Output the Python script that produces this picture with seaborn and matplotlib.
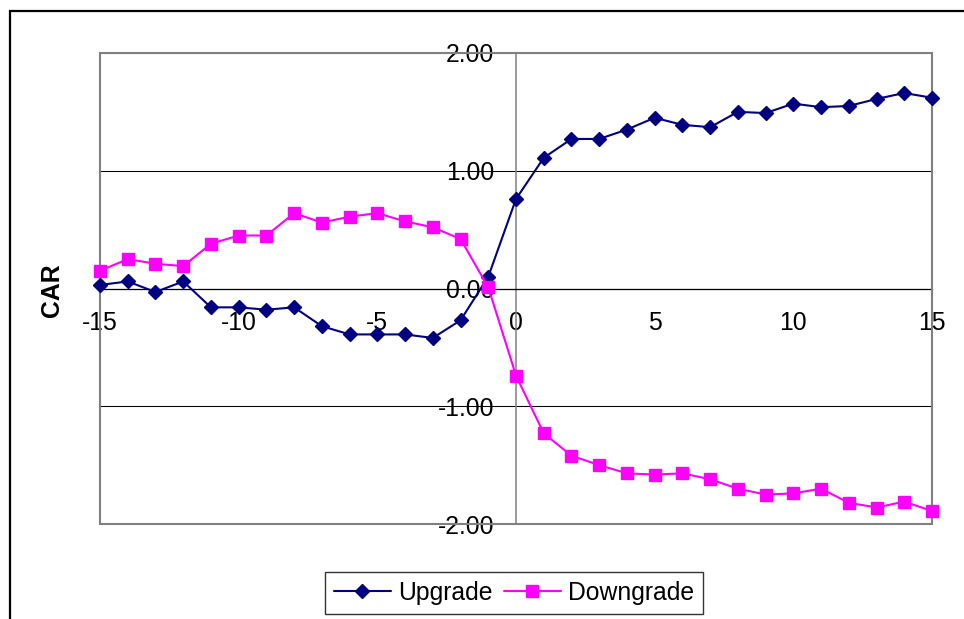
import matplotlib
matplotlib.use("Agg")
import matplotlib.pyplot as plt
from matplotlib.patches import Rectangle
import seaborn as sns

# -------------------------
# data
# -------------------------
days = [-15, -14, -13, -12, -11, -10, -9, -8, -7, -6, -5, -4, -3, -2, -1,
        0, 1, 2, 3, 4, 5, 6, 7, 8, 9, 10, 11, 12, 13, 14, 15]
upgrade = [0.03, 0.06, -0.03, 0.06, -0.16, -0.16, -0.18, -0.16, -0.32, -0.39,
           -0.39, -0.39, -0.42, -0.27, 0.10,
           0.76, 1.11, 1.27, 1.27, 1.35, 1.45, 1.39, 1.37, 1.50, 1.49,
           1.57, 1.54, 1.55, 1.61, 1.66, 1.62]
downgrade = [0.15, 0.25, 0.21, 0.19, 0.38, 0.45, 0.45, 0.64, 0.56, 0.61,
             0.64, 0.57, 0.52, 0.42, 0.01,
             -0.74, -1.23, -1.42, -1.50, -1.57, -1.58, -1.57, -1.62, -1.70, -1.75,
             -1.74, -1.70, -1.82, -1.86, -1.81, -1.89]
x_ticks = [-15, -10, -5, 0, 5, 10, 15]
y_ticks = [-2, -1, 0, 1, 2]

NAVY = "#000080"
MAGENTA = "#FF00FF"
FS = 17.8

# -------------------------
# style
# -------------------------
sns.set_style("white")
plt.rcParams["font.family"] = ["Liberation Sans", "DejaVu Sans"]
plt.rcParams["text.color"] = "black"
plt.rcParams["xtick.labelcolor"] = "black"
plt.rcParams["ytick.labelcolor"] = "black"

fig = plt.figure(figsize=(9.64, 6.19), dpi=100)
ax = fig.add_axes([100 / 964, 95 / 619, 832 / 964, 471 / 619])

# -------------------------
# lines
# -------------------------
sns.lineplot(x=days, y=upgrade, ax=ax, color=NAVY, marker="D", markersize=7.3,
             markeredgecolor=NAVY, markeredgewidth=1, linewidth=1.5,
             label="Upgrade", zorder=4)
sns.lineplot(x=days, y=downgrade, ax=ax, color=MAGENTA, marker="s", markersize=9,
             markeredgecolor=MAGENTA, markeredgewidth=1, linewidth=1.5,
             label="Downgrade", zorder=4)
for ln in ax.lines:
    ln.set_clip_on(False)

handles, labels = ax.get_legend_handles_labels()
ax.get_legend().remove()

ax.set_xlim(-15, 15)
ax.set_ylim(-2, 2)

# axes crossing at zero
for s in ["top", "right"]:
    ax.spines[s].set_visible(False)
ax.spines["left"].set_position(("data", 0))
ax.spines["bottom"].set_position(("data", 0))
ax.spines["left"].set_color("#808080")
ax.spines["left"].set_linewidth(1.1)
ax.spines["bottom"].set_color("black")
ax.spines["bottom"].set_linewidth(0.9)

ax.set_xticks(x_ticks)
ax.set_xticklabels([str(v) for v in x_ticks])
ax.set_yticks(y_ticks)
ax.set_yticklabels([f"{v:.2f}" for v in y_ticks])
ax.tick_params(axis="x", direction="out", length=5, width=0.9, color="black",
               pad=11, labelsize=FS, labelcolor="black")
ax.tick_params(axis="y", direction="out", length=6.5, width=1.1, color="#808080",
               pad=9, labelsize=FS, labelcolor="black")
ax.set_xlabel("")
ax.set_ylabel("")

ax.yaxis.grid(True, color="black", linewidth=0.75)
ax.xaxis.grid(False)

# grey plot-area frame
ax.add_patch(Rectangle((0, 0), 1, 1, transform=ax.transAxes, fill=False,
                       edgecolor="#808080", linewidth=1.5, zorder=3, clip_on=False))

# y label
fig.text(52 / 964, 1 - 290 / 619, "CAR", rotation=90, fontsize=FS,
         fontweight="bold", ha="center", va="center", color="black")

# legend
leg = fig.legend(handles, labels, loc="center", bbox_to_anchor=(514 / 964, 1 - 593 / 619),
                 ncol=2, fontsize=FS, frameon=True, fancybox=False,
                 handlelength=2.3, handletextpad=0.3, columnspacing=0.45,
                 borderpad=0.35, borderaxespad=0)
leg.get_frame().set_edgecolor("black")
leg.get_frame().set_linewidth(1.0)
for t in leg.get_texts():
    t.set_color("black")

# outer chart border (runs off the right and bottom edges)
fig.patches.append(Rectangle((10 / 964, -0.1), 1.2, 1.1 - 11 / 619,
                             transform=fig.transFigure, fill=False,
                             edgecolor="black", linewidth=1.6))

fig.savefig("out.png", dpi=100)
